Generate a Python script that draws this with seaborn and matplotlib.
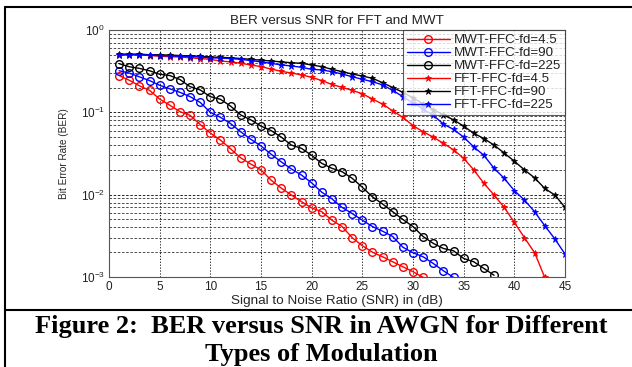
import numpy as np
import pandas as pd
import matplotlib
matplotlib.use("Agg")
import matplotlib.pyplot as plt
import seaborn as sns
from matplotlib.ticker import LogLocator, FixedLocator

# BER values, one point per dB of SNR
mwt_45 = [0.28, 0.245, 0.21, 0.185, 0.145, 0.122, 0.102, 0.092, 0.071, 0.056,
          0.046, 0.036, 0.028, 0.0235, 0.020, 0.015, 0.012, 0.0099, 0.0082, 0.0069,
          0.0062, 0.0049, 0.0041, 0.0030, 0.0024, 0.0020, 0.00176, 0.00153, 0.00133,
          0.00116, 0.00099]
mwt_90 = [0.32, 0.30, 0.27, 0.243, 0.213, 0.193, 0.175, 0.155, 0.132, 0.10,
          0.087, 0.073, 0.058, 0.047, 0.039, 0.031, 0.025, 0.0205, 0.0173, 0.0139,
          0.0107, 0.0089, 0.0070, 0.0059, 0.0049, 0.0041, 0.0036, 0.0031, 0.0023,
          0.00197, 0.00176, 0.00146, 0.00119, 0.00099]
mwt_225 = [0.39, 0.358, 0.342, 0.32, 0.29, 0.28, 0.25, 0.205, 0.187, 0.155,
           0.144, 0.119, 0.093, 0.081, 0.068, 0.060, 0.050, 0.040, 0.0365, 0.030,
           0.024, 0.0209, 0.019, 0.0158, 0.0123, 0.0094, 0.0077, 0.0062, 0.0050,
           0.0041, 0.0031, 0.00256, 0.00222, 0.00208, 0.00168, 0.00153, 0.00127,
           0.00105]
fft_45 = [0.50, 0.50, 0.50, 0.49, 0.48, 0.475, 0.47, 0.46, 0.45, 0.44,
          0.42, 0.41, 0.395, 0.375, 0.36, 0.335, 0.315, 0.30, 0.285, 0.266,
          0.243, 0.218, 0.201, 0.185, 0.168, 0.145, 0.126, 0.104, 0.087, 0.069,
          0.058, 0.050, 0.042, 0.035, 0.0276, 0.020, 0.0137, 0.0099, 0.0070, 0.0046,
          0.0030, 0.00197, 0.00099]
fft_90 = [0.51, 0.51, 0.51, 0.50, 0.50, 0.495, 0.49, 0.485, 0.48, 0.47,
          0.465, 0.46, 0.45, 0.44, 0.43, 0.42, 0.41, 0.40, 0.394, 0.376,
          0.359, 0.333, 0.312, 0.292, 0.276, 0.259, 0.229, 0.20, 0.175, 0.15,
          0.127, 0.108, 0.093, 0.081, 0.068, 0.0556, 0.048, 0.040, 0.032, 0.0255,
          0.020, 0.016, 0.0119, 0.0099, 0.0070]
fft_225 = [0.50, 0.50, 0.50, 0.495, 0.49, 0.485, 0.48, 0.475, 0.47, 0.46,
           0.455, 0.45, 0.44, 0.425, 0.41, 0.394, 0.376, 0.366, 0.352, 0.333,
           0.327, 0.312, 0.292, 0.271, 0.252, 0.236, 0.215, 0.185, 0.155, 0.13,
           0.11, 0.092, 0.072, 0.062, 0.050, 0.038, 0.030, 0.0209, 0.0158, 0.0112,
           0.0086, 0.0062, 0.0042, 0.0029, 0.0019]

labels = ["MWT-FFC-fd=4.5", "MWT-FFC-fd=90", "MWT-FFC-fd=225",
          "FFT-FFC-fd=4.5", "FFT-FFC-fd=90", "FFT-FFC-fd=225"]
series = [mwt_45, mwt_90, mwt_225, fft_45, fft_90, fft_225]
colors = ["#ff0000", "#0000ff", "#000000", "#ff0000", "#000000", "#0000ff"]
markers = ["o", "o", "o", "*", "*", "*"]

sns.set_style("white")
plt.rcParams["font.family"] = ["Liberation Sans", "DejaVu Sans"]
plt.rcParams["text.color"] = "#222222"

fig = plt.figure(figsize=(6.32, 3.67), dpi=100)
ax = fig.add_axes([109 / 632, 1 - 277 / 367, 456 / 632, 247 / 367])

for lab, ber, col, mk in zip(labels, series, colors, markers):
    df = pd.DataFrame({"snr": np.arange(1, len(ber) + 1), "ber": ber})
    if mk == "o":
        sns.lineplot(data=df, x="snr", y="ber", ax=ax, color=col, marker="o",
                     markersize=5.5, markerfacecolor="none", markeredgecolor=col,
                     markeredgewidth=1.0, linewidth=1.0, label=lab)
    else:
        sns.lineplot(data=df, x="snr", y="ber", ax=ax, color=col, marker="*",
                     markersize=5, markeredgecolor=col, markeredgewidth=0.6,
                     linewidth=1.0, label=lab)

ax.set_yscale("log")
ax.set_xlim(0, 45)
ax.set_ylim(1e-3, 1)
ax.xaxis.set_major_locator(FixedLocator(range(0, 46, 5)))
ax.yaxis.set_major_locator(LogLocator(base=10, numticks=10))
ax.yaxis.set_minor_locator(LogLocator(base=10, subs=np.arange(2, 10), numticks=20))
ax.tick_params(axis="both", which="both", direction="in", labelsize=8.5,
               length=3, width=0.6, colors="#222222", pad=3)
ax.tick_params(axis="y", which="minor", length=1.5)
ax.grid(True, which="major", axis="x", color="black", linestyle=(0, (1.5, 2)), linewidth=0.6)
ax.grid(True, which="major", axis="y", color="black", linestyle=(0, (3, 2)), linewidth=0.6)
ax.grid(True, which="minor", axis="y", color="#333333", linestyle=(0, (3, 2)), linewidth=0.6)
for s in ax.spines.values():
    s.set_color("#555555")
    s.set_linewidth(0.8)

ax.set_title("BER versus SNR for FFT and MWT", fontsize=9.7, pad=4)
ax.set_xlabel("Signal to Noise Ratio (SNR) in (dB)", fontsize=9.7, labelpad=1)
ax.set_ylabel("Bit Error Rate (BER)", fontsize=7.2, labelpad=8)

leg = ax.legend(loc="upper right", fontsize=9.6, frameon=True, fancybox=False,
                borderpad=0.3, labelspacing=0.05, handlelength=3.2,
                handletextpad=0.3, borderaxespad=0)
leg.get_frame().set_edgecolor("#333333")
leg.get_frame().set_linewidth(0.8)

# page frame around the figure and caption
fig.add_artist(plt.Line2D([5 / 632, 5 / 632], [0, 1 - 7 / 367], color="black", lw=1.5))
fig.add_artist(plt.Line2D([5 / 632, 1], [1 - 7 / 367, 1 - 7 / 367], color="black", lw=1.5))
fig.add_artist(plt.Line2D([5 / 632, 1], [1 - 310 / 367, 1 - 310 / 367], color="black", lw=1.5))

fig.text(0.508, 1 - 327 / 367, "Figure 2:  BER versus SNR in AWGN for Different",
         ha="center", va="center", fontsize=19, fontweight="bold", color="black",
         family=["Liberation Serif", "DejaVu Serif"])
fig.text(0.508, 1 - 354 / 367, "Types of Modulation",
         ha="center", va="center", fontsize=19, fontweight="bold", color="black",
         family=["Liberation Serif", "DejaVu Serif"])

fig.savefig("out.png", dpi=100)
